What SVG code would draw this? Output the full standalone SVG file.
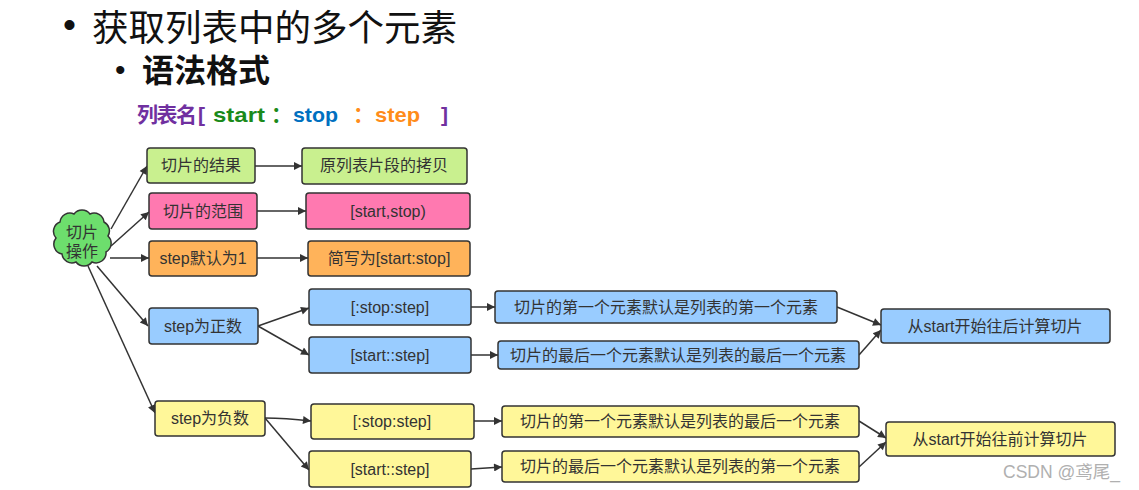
<svg xmlns="http://www.w3.org/2000/svg" width="1139" height="490" viewBox="0 0 1139 490">
<defs>
<marker id="arr" viewBox="0 0 10 10" refX="10" refY="5" markerWidth="10" markerHeight="8" markerUnits="userSpaceOnUse" orient="auto">
<path d="M0,0 L10,5 L0,10 z" fill="#333"/>
</marker>
<style>
.box{stroke:#333;stroke-width:1.5}
.g{fill:#C9F08F}.p{fill:#FF79B0}.o{fill:#FFB35A}.b{fill:#99CCFF}.y{fill:#FFF799}
.t{font-family:"Liberation Sans","Noto Sans CJK SC",sans-serif;font-size:16px;fill:#333;text-anchor:middle}
.c{fill:none;stroke:#333;stroke-width:1.5;marker-end:url(#arr)}
.h{font-family:"Noto Sans CJK SC",sans-serif}
</style>
</defs>
<rect width="1139" height="490" fill="#fff"/>
<g id="title">
<text x="63" y="37" font-family="Liberation Sans,sans-serif" font-size="37" fill="#111">•</text>
<text x="92" y="41" class="h" font-size="36.5" fill="#111">获取列表中的多个元素</text>
<text x="115" y="80" font-family="Liberation Sans,sans-serif" font-size="30" fill="#111">•</text>
<text x="142" y="82" class="h" font-size="32" font-weight="bold" fill="#111">语法格式</text>
<g font-family="Liberation Sans,Noto Sans CJK SC,sans-serif" font-size="21" font-weight="bold">
<text x="137" y="122" fill="#7030A0" font-family="Noto Sans CJK SC,sans-serif" textLength="60">列表名</text>
<text x="198" y="122" fill="#7030A0">[</text>
<text x="213" y="122" fill="#1A8A1A" textLength="52" lengthAdjust="spacingAndGlyphs">start</text>
<text x="271" y="122" fill="#1A8A1A" font-family="Noto Sans CJK SC,sans-serif">：</text>
<text x="293" y="122" fill="#0070C0" textLength="45" lengthAdjust="spacingAndGlyphs">stop</text>
<text x="353" y="122" fill="#FF8C1A" font-family="Noto Sans CJK SC,sans-serif">：</text>
<text x="375" y="122" fill="#FF8C1A" textLength="45" lengthAdjust="spacingAndGlyphs">step</text>
<text x="441" y="122" fill="#7030A0">]</text>
</g>
</g>
<g id="connectors">
<path class="c" d="M111,229 L147,166"/>
<path class="c" d="M111,246 L149,212"/>
<path class="c" d="M110,258 L149,258"/>
<path class="c" d="M97,266 L148,326"/>
<path class="c" d="M88,266 L155,413"/>
<path class="c" d="M255,166 L302,166"/>
<path class="c" d="M257,211 L306,211"/>
<path class="c" d="M257,258 L308,258"/>
<path class="c" d="M258,326 L309,308"/>
<path class="c" d="M258,326 L309,355"/>
<path class="c" d="M265,418 Q285,418 311,421"/>
<path class="c" d="M265,418 L309,470"/>
<path class="c" d="M471,307 L495,307"/>
<path class="c" d="M471,355 L498,355"/>
<path class="c" d="M474,421 L502,421"/>
<path class="c" d="M471,469 L502,467"/>
<path class="c" d="M837,307 L881,325"/>
<path class="c" d="M859,355 L881,330"/>
<path class="c" d="M859,421 L886,438"/>
<path class="c" d="M859,467 L886,442"/>
</g>
<g id="n-cloud">
<path d="M60,222 a10,10 0 0 1 14,-8 a10,10 0 0 1 16,0 a10,10 0 0 1 14,8 a10,10 0 0 1 4,14 a10,10 0 0 1 -2,16 a10,10 0 0 1 -14,10 a10,10 0 0 1 -16,0 a10,10 0 0 1 -14,-8 a10,10 0 0 1 -6,-16 a10,10 0 0 1 4,-16 z" fill="#6DDE6D" stroke="#333" stroke-width="1.5"/>
<text class="t" x="82" y="238">切片</text>
<text class="t" x="82" y="257">操作</text>
</g>
<g id="n-result"><rect class="box g" x="147" y="148" width="108" height="35" rx="3"/><text class="t" x="201" y="171">切片的结果</text></g>
<g id="n-copy"><rect class="box g" x="302" y="148" width="165" height="36" rx="3"/><text class="t" x="384" y="171">原列表片段的拷贝</text></g>
<g id="n-range"><rect class="box p" x="149" y="193" width="108" height="36" rx="3"/><text class="t" x="203" y="217">切片的范围</text></g>
<g id="n-startstop"><rect class="box p" x="306" y="193" width="164" height="36" rx="3"/><text class="t" x="388" y="217">[start,stop)</text></g>
<g id="n-step1"><rect class="box o" x="149" y="241" width="108" height="35" rx="3"/><text class="t" x="203" y="264">step默认为1</text></g>
<g id="n-short"><rect class="box o" x="308" y="241" width="162" height="35" rx="3"/><text class="t" x="389" y="264">简写为[start:stop]</text></g>
<g id="n-pos"><rect class="box b" x="149" y="308" width="109" height="36" rx="3"/><text class="t" x="203" y="332">step为正数</text></g>
<g id="n-pos1"><rect class="box b" x="309" y="289" width="162" height="36" rx="3"/><text class="t" x="390" y="313">[:stop:step]</text></g>
<g id="n-pos2"><rect class="box b" x="309" y="337" width="162" height="36" rx="3"/><text class="t" x="390" y="361">[start::step]</text></g>
<g id="n-pos1d"><rect class="box b" x="495" y="291" width="342" height="32" rx="3"/><text class="t" x="666" y="313">切片的第一个元素默认是列表的第一个元素</text></g>
<g id="n-pos2d"><rect class="box b" x="498" y="341" width="361" height="28" rx="3"/><text class="t" x="678" y="361">切片的最后一个元素默认是列表的最后一个元素</text></g>
<g id="n-fwd"><rect class="box b" x="881" y="309" width="229" height="34" rx="3"/><text class="t" x="995" y="332">从start开始往后计算切片</text></g>
<g id="n-neg"><rect class="box y" x="155" y="401" width="110" height="35" rx="3"/><text class="t" x="210" y="424">step为负数</text></g>
<g id="n-neg1"><rect class="box y" x="311" y="404" width="163" height="35" rx="3"/><text class="t" x="392" y="427">[:stop:step]</text></g>
<g id="n-neg2"><rect class="box y" x="309" y="451" width="162" height="36" rx="3"/><text class="t" x="390" y="475">[start::step]</text></g>
<g id="n-neg1d"><rect class="box y" x="502" y="406" width="357" height="31" rx="3"/><text class="t" x="680" y="427">切片的第一个元素默认是列表的最后一个元素</text></g>
<g id="n-neg2d"><rect class="box y" x="502" y="451" width="357" height="31" rx="3"/><text class="t" x="680" y="472">切片的最后一个元素默认是列表的第一个元素</text></g>
<g id="n-bwd"><rect class="box y" x="886" y="422" width="229" height="34" rx="3"/><text class="t" x="1000" y="445">从start开始往前计算切片</text></g>
<text x="1003" y="478" font-family="Liberation Sans,Noto Sans CJK SC,sans-serif" font-size="17.5" fill="#b0b0b0">CSDN @鸢尾_</text>
</svg>
